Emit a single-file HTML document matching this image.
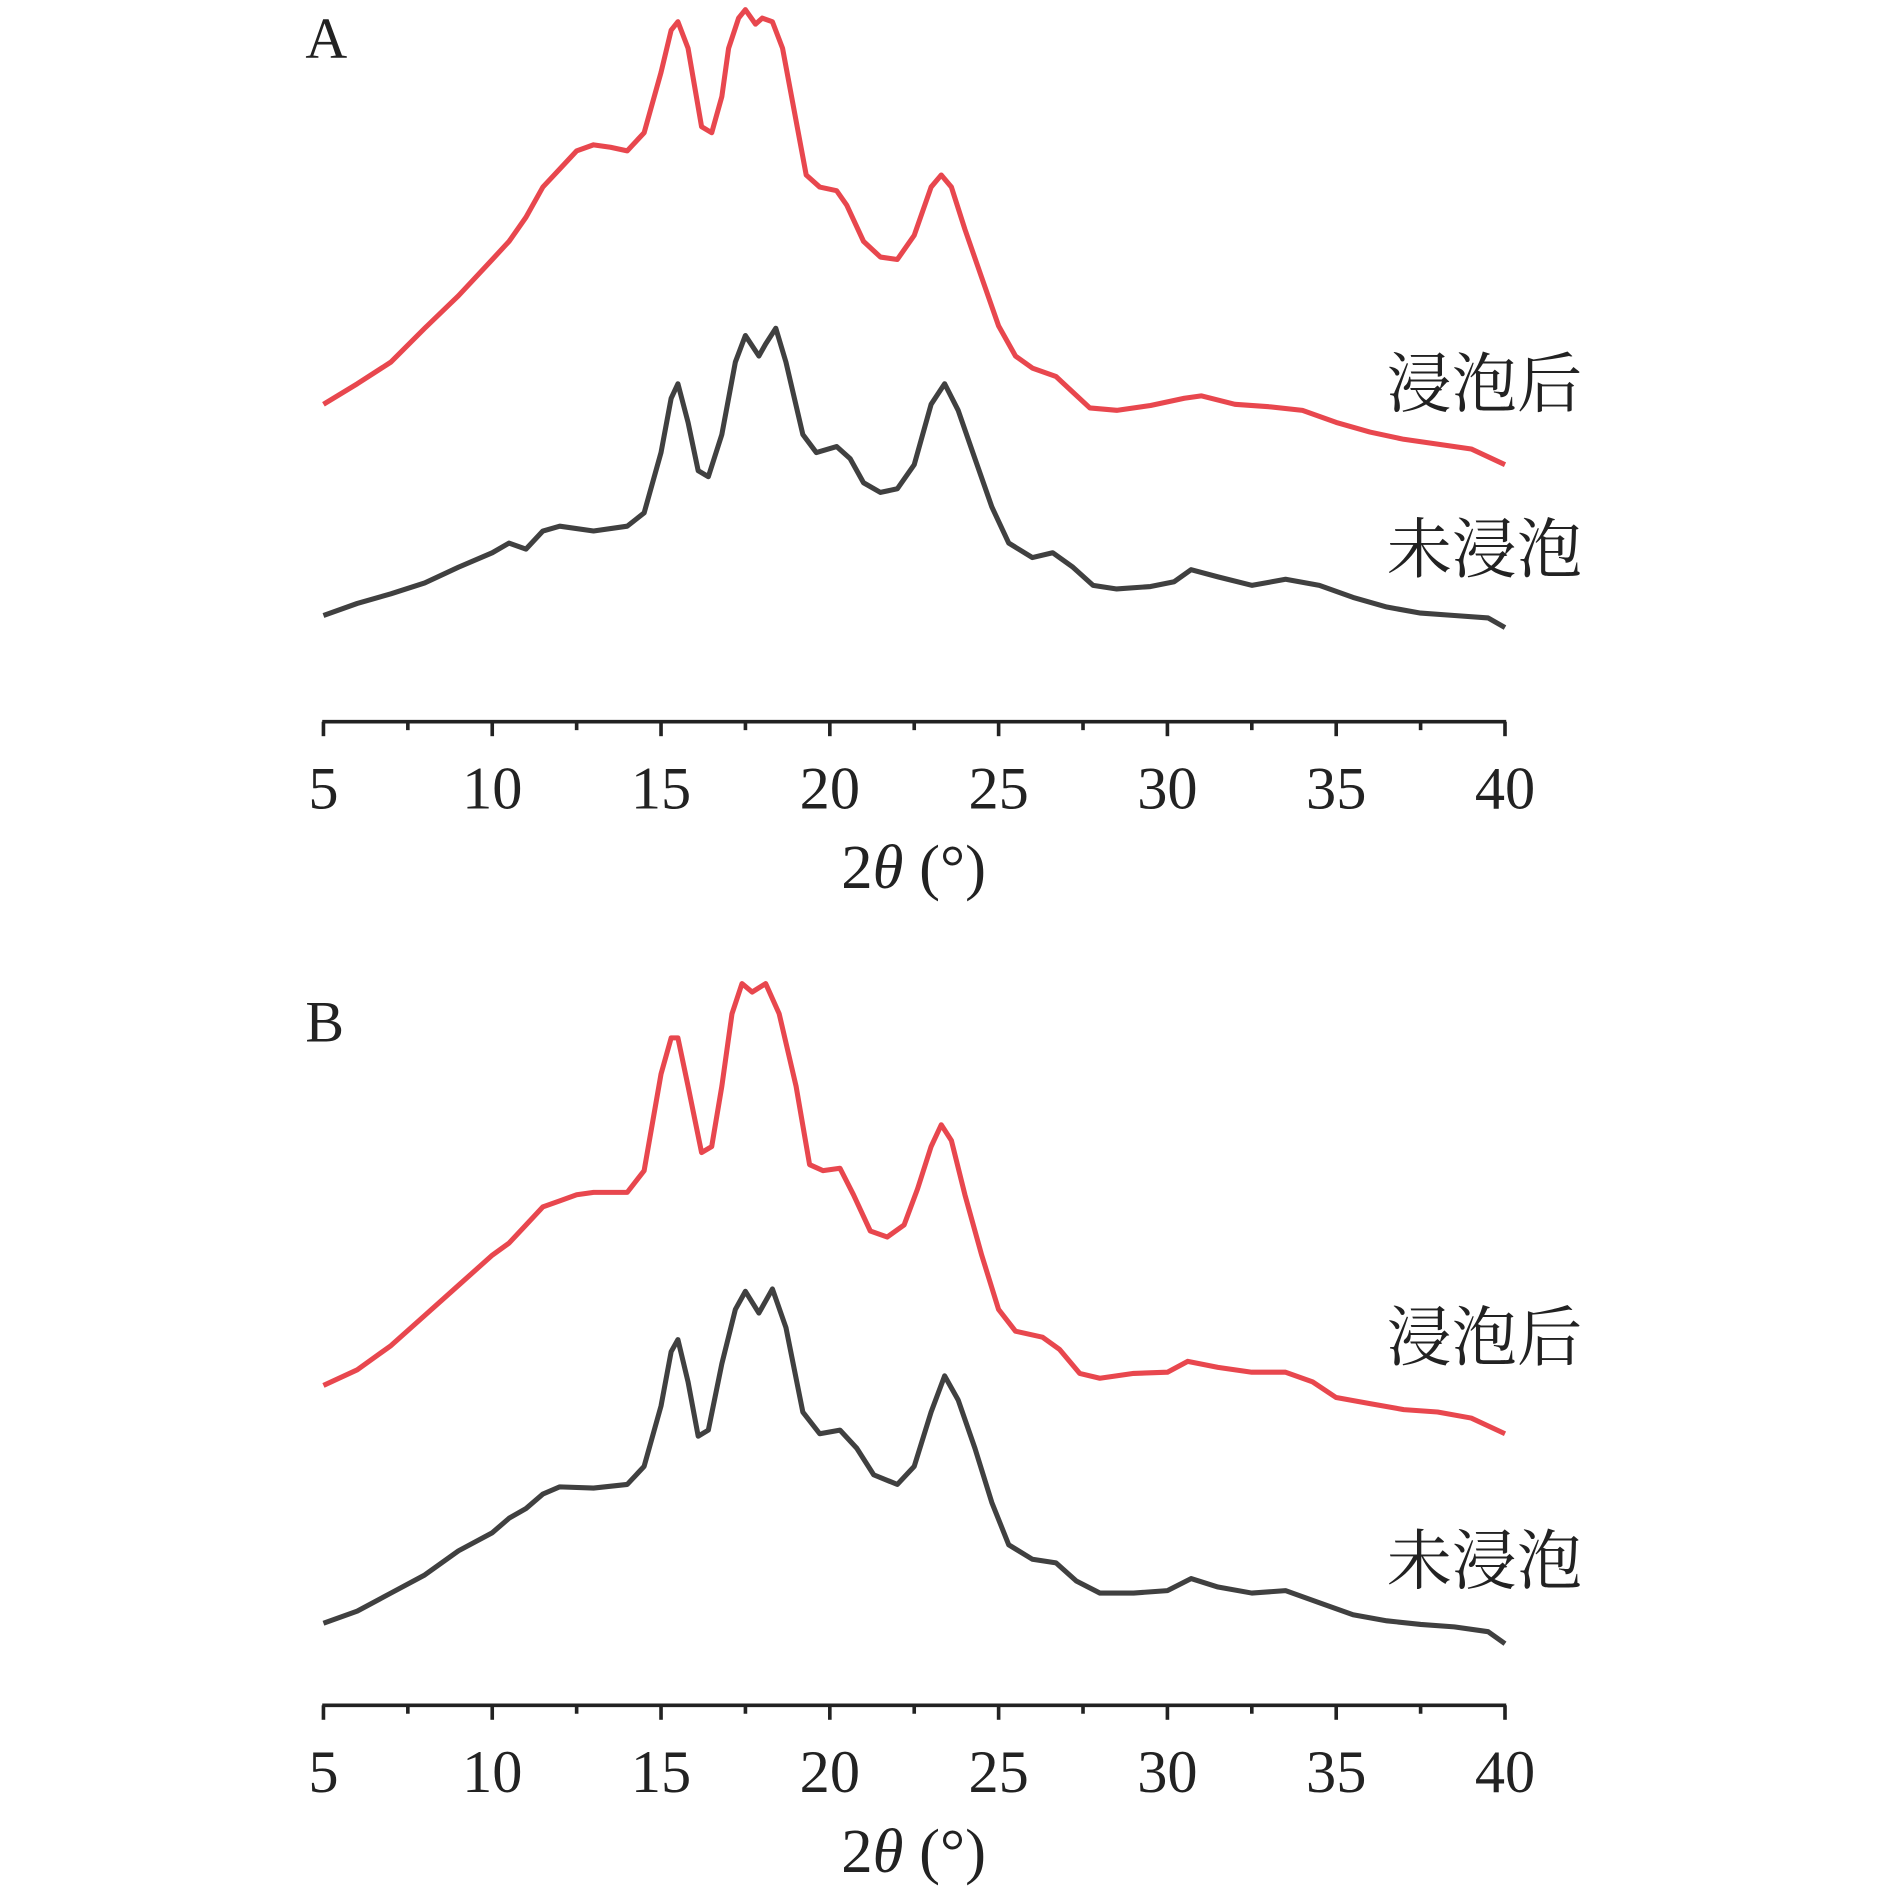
<!DOCTYPE html>
<html><head><meta charset="utf-8"><style>
html,body{margin:0;padding:0;background:#fff;}
svg{display:block;}
text{font-family:"Liberation Serif","Noto Serif CJK SC",serif;fill:#222;}
</style></head><body>
<svg id="chart" width="1890" height="1892" viewBox="0 0 1566 1567.7" preserveAspectRatio="none" xmlns="http://www.w3.org/2000/svg">
<g id="panelA"></g>
<g id="panelB"></g>
</svg>
<script>
const ticks = [5,10,15,20,25,30,35,40];
const minorTicks = [7.5,12.5,17.5,22.5,27.5,32.5,37.5];
const aRedX = [5,6,7,8,9,10,10.5,11,11.5,12,12.5,13,13.5,14,14.5,15,15.3,15.5,15.8,16.2,16.5,16.8,17,17.3,17.5,17.8,18,18.3,18.6,19,19.3,19.7,20.2,20.5,21,21.5,22,22.5,23,23.3,23.6,24,24.5,25,25.5,26,26.7,27.2,27.7,28.5,29.5,30.5,31,32,33,34,35,36,37,38,39,40];
const aRedY = [265,282,300,328,355,385,400,420,445,460,475,480,478,475,490,540,575,582,560,495,490,520,560,585,592,580,585,582,560,500,455,445,442,430,400,387,385,405,445,455,445,410,370,330,305,295,288,275,262,260,264,270,272,265,263,260,250,242,236,232,228,215];
const aBlkX = [5,6,7,8,9,10,10.5,11,11.5,12,13,14,14.5,15,15.3,15.5,15.8,16.1,16.4,16.8,17.2,17.5,17.9,18.1,18.4,18.7,19.2,19.6,20.2,20.6,21,21.5,22,22.5,23,23.4,23.8,24.3,24.8,25.3,26,26.6,27.2,27.8,28.5,29.5,30.2,30.7,31.5,32.5,33.5,34.5,35.5,36.5,37.5,38.5,39.5,40];
const aBlkY = [90,100,108,117,130,142,150,145,160,164,160,164,175,225,270,282,250,210,205,240,300,322,305,315,328,300,240,225,230,220,200,192,195,215,265,282,260,220,180,150,138,142,130,115,112,114,118,128,122,115,120,115,105,97,92,90,88,80];
const bRedX = [5,6,7,8,9,10,10.5,11,11.5,12,12.5,13,14,14.5,15,15.3,15.5,15.8,16.2,16.5,16.8,17.1,17.4,17.7,18.1,18.5,19,19.4,19.8,20.3,20.7,21.2,21.7,22.2,22.6,23,23.3,23.6,24,24.5,25,25.5,26.3,26.8,27.4,28,29,30,30.6,31.5,32.5,33.5,34.3,35,36,37,38,39,40];
const bRedY = [267,280,300,325,350,375,385,400,415,420,425,427,427,445,525,555,555,515,460,465,515,575,600,593,600,575,515,450,445,447,425,395,390,400,430,465,483,470,425,375,330,312,307,297,277,273,277,278,287,282,278,278,270,257,252,247,245,240,227];
const bBlkX = [5,6,7,8,9,10,10.5,11,11.5,12,13,14,14.5,15,15.3,15.5,15.8,16.1,16.4,16.8,17.2,17.5,17.9,18.3,18.7,19.2,19.7,20.3,20.8,21.3,22,22.5,23,23.4,23.8,24.3,24.8,25.3,26,26.7,27.3,28,29,30,30.7,31.5,32.5,33.5,34.5,35.5,36.5,37.5,38.5,39.5,40];
const bBlkY = [70,80,95,110,130,145,157,165,177,183,182,185,200,250,295,305,270,225,230,285,330,345,327,347,315,245,227,230,215,193,185,200,245,275,255,215,170,135,123,120,105,95,95,97,107,100,95,97,87,77,72,69,67,63,53];

const NS = "http://www.w3.org/2000/svg";
function xScale(d){ return 268 + (d - 5) * (1247 - 268) / 35; }
function mk(tag, attrs, parent){
  const e = document.createElementNS(NS, tag);
  for (const k in attrs) e.setAttribute(k, attrs[k]);
  parent.appendChild(e); return e;
}
function drawPanel(g, axisY, base, letter, series, lblYs){
  const yScale = v => base - v;
  const letterEl = mk('text', {x:253, y:axisY-550, 'font-size':48}, g);
  letterEl.textContent = letter;
  
  
  series.forEach(s => {
    const pts = s.xs.map((d,i) => xScale(d).toFixed(1) + ',' + yScale(s.ys[i]).toFixed(1)).join(' ');
    const pl = mk('polyline', {points:pts, fill:'none', stroke:s.color, 'stroke-width':4.2, 'stroke-linejoin':'round'}, g);
    
    
  });
  const axis = mk('line', {x1:267, x2:1248, y1:axisY, y2:axisY, stroke:'#222', 'stroke-width':3}, g);
  
  
  ticks.forEach(t => {
    const tk = mk('line', {x1:xScale(t), x2:xScale(t), y1:axisY, y2:axisY+12, stroke:'#222', 'stroke-width':3}, g);
    
    
    const tl = mk('text', {x:xScale(t), y:axisY+72, 'font-size':50, 'text-anchor':'middle'}, g);
    tl.textContent = t;
    
    
  });
  minorTicks.forEach(t => {
    const tk = mk('line', {x1:xScale(t), x2:xScale(t), y1:axisY, y2:axisY+7, stroke:'#222', 'stroke-width':3}, g);
    
    
  });
  const title = mk('text', {x:757, y:axisY+138, 'font-size':52, 'text-anchor':'middle'}, g);
  title.innerHTML = '2<tspan font-style="italic">θ</tspan> (°)';
  
  
  const names = ['浸泡后','未浸泡'];
  const lnames = ['label-after-soaking','label-before-soaking'];
  names.forEach((n,i) => {
    const t = mk('text', {x:1149, y:lblYs[i]+19, 'font-size':54, style:'font-family:"Noto Serif CJK SC","Noto Sans CJK SC",serif'}, g);
    t.textContent = n;
    
    
  });
}
drawPanel(document.getElementById('panelA'), 598, 600, 'A',
  [{xs:aRedX, ys:aRedY, color:'#e8474e', name:'series-after-soaking'},
   {xs:aBlkX, ys:aBlkY, color:'#404040', name:'series-before-soaking'}], [318,455]);
drawPanel(document.getElementById('panelB'), 1413, 1415, 'B',
  [{xs:bRedX, ys:bRedY, color:'#e8474e', name:'series-after-soaking'},
   {xs:bBlkX, ys:bBlkY, color:'#404040', name:'series-before-soaking'}], [1108,1293]);
</script>
</body></html>
